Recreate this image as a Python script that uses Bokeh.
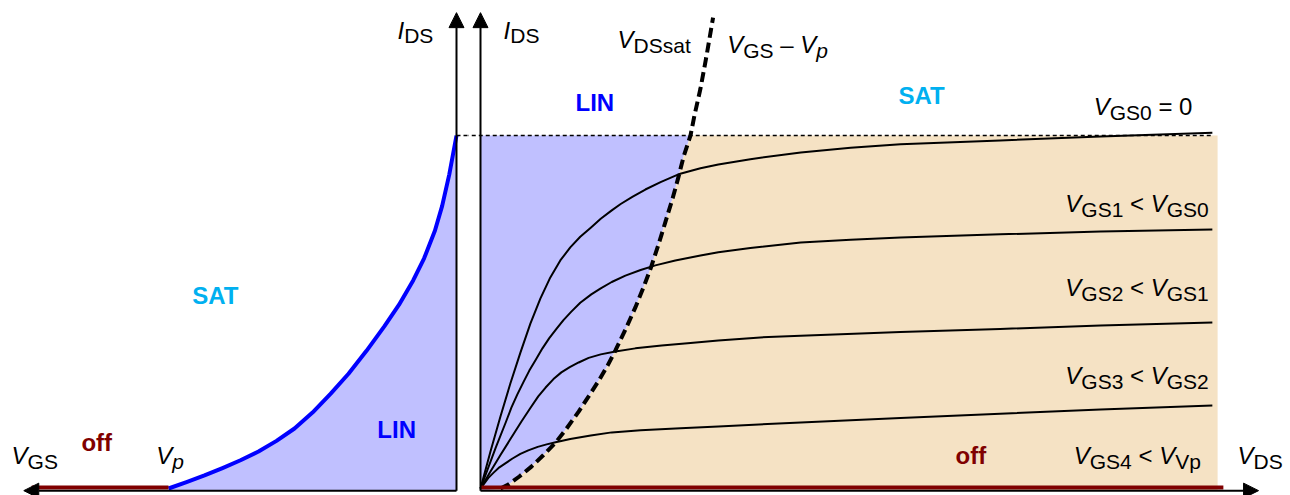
from bokeh.plotting import figure
from bokeh.layouts import row
from bokeh.models import Range1d, Arrow, NormalHead
from bokeh.core.properties import value
from bokeh.embed import file_html
from bokeh.resources import INLINE

FONT = "Liberation Sans"

# JFET parameters (mA, V)
IDSS = 10.0
VP = -4.0

# Transfer characteristic I_DS(V_GS)
vgs_transfer = [-4.0, -3.75, -3.5, -3.25, -3.0, -2.75, -2.5, -2.25, -2.0, -1.75,
                -1.5, -1.25, -1.0, -0.8, -0.6, -0.45, -0.3, -0.2, -0.1, 0.0]
ids_transfer = [0.0, 0.18, 0.37, 0.58, 0.80, 1.05, 1.35, 1.70, 2.15, 2.68,
                3.25, 3.90, 4.60, 5.20, 5.90, 6.52, 7.30, 8.00, 8.90, 10.0]

# Output characteristics I_DS(V_DS) for V_GS0 .. V_GS3
vds_c0 = [0, 0.19, 0.38, 0.57, 0.76, 0.95, 1.14, 1.33, 1.52, 1.71, 1.90, 2.10, 2.29, 2.50,
          2.67, 2.90, 3.14, 3.43, 3.77, 4.19, 4.53, 5.14, 6.10, 7.05, 8.0, 9.90, 11.81, 13.94]
ids_c0 = [0, 1.05, 2.04, 2.98, 3.85, 4.67, 5.38, 5.98, 6.46, 6.83, 7.13, 7.39, 7.64, 7.88,
          8.06, 8.27, 8.47, 8.68, 8.90, 9.07, 9.18, 9.33, 9.52, 9.65, 9.75, 9.86, 9.97, 10.08]

vds_c1 = [0, 0.29, 0.48, 0.59, 0.70, 0.82, 0.93, 1.05, 1.18, 1.31, 1.45, 1.58, 1.73, 1.90, 2.11,
          2.29, 2.50, 2.76, 3.05, 3.33, 3.71, 4.19, 4.53, 5.14, 6.10, 7.05, 8.0, 9.90, 11.81, 13.94]
ids_c1 = [0, 1.16, 1.87, 2.30, 2.66, 3.02, 3.34, 3.64, 3.97, 4.26, 4.53, 4.77, 5.01, 5.26, 5.50,
          5.67, 5.85, 6.03, 6.19, 6.32, 6.46, 6.60, 6.69, 6.81, 6.97, 7.05, 7.11, 7.20, 7.28, 7.34]

vds_c2 = [0, 0.19, 0.38, 0.57, 0.78, 0.95, 1.10, 1.24, 1.39, 1.54, 1.70, 1.87, 2.06, 2.29,
          2.57, 2.95, 3.45, 4.0, 4.53, 5.33, 6.10, 8.0, 9.90, 11.81, 13.94]
ids_c2 = [0, 0.48, 0.95, 1.40, 1.90, 2.28, 2.61, 2.86, 3.10, 3.29, 3.44, 3.57, 3.70, 3.80,
          3.88, 3.97, 4.05, 4.12, 4.19, 4.28, 4.33, 4.43, 4.52, 4.62, 4.70]

vds_c3 = [0, 0.08, 0.15, 0.25, 0.36, 0.48, 0.61, 0.76, 0.91, 1.09, 1.26, 1.43, 1.71,
          2.10, 2.50, 3.05, 3.81, 4.53, 6.10, 8.0, 9.90, 11.81, 13.94]
ids_c3 = [0, 0.16, 0.30, 0.45, 0.60, 0.72, 0.85, 0.98, 1.08, 1.18, 1.25, 1.31, 1.40,
          1.50, 1.59, 1.65, 1.71, 1.76, 1.87, 2.00, 2.12, 2.24, 2.35]

output_curves = [(vds_c0, ids_c0), (vds_c1, ids_c1), (vds_c2, ids_c2), (vds_c3, ids_c3)]

# Saturation boundary V_DSsat = V_GS - V_p
vds_sat = [0.38, 0.53, 0.74, 0.97, 1.20, 1.43, 1.64, 1.87, 2.06, 2.25, 2.42, 2.57, 2.76,
           2.95, 3.10, 3.24, 3.39, 3.52, 3.66, 3.77, 3.87, 4.0, 4.08, 4.19, 4.30, 4.43]
ids_sat = [0.0, 0.11, 0.34, 0.62, 0.95, 1.30, 1.70, 2.18, 2.61, 3.05, 3.48, 3.91, 4.50,
           5.13, 5.68, 6.23, 6.91, 7.54, 8.22, 8.82, 9.41, 10.0, 10.60, 11.33, 12.21, 13.34]

VDS_END = 14.04      # right edge of the shaded region
VDS_OFF_END = 14.15  # end of the cut-off bar
AXIS_Y = -0.06       # axis lines sit just under I_DS = 0
OFF_Y = 0.03
TEXT_DY = -8         # nudge for the alphabetic baseline of the SVG text

LAVENDER = "#c0c0ff"
TAN = "#f5e2c4"
BLUE = "#0000ff"
CYAN = "#00b0f0"
DARKRED = "#800000"

# em widths (Arial metrics) used to chain text runs
EM = {"V": 0.667, "G": 0.778, "S": 0.667, "D": 0.722, "I": 0.278, "<": 0.584, "=": 0.584,
      " ": 0.278, "s": 0.5, "a": 0.556, "t": 0.278, "p": 0.556, "\u2013": 0.556}


def run_width(text, size):
    return sum(EM.get(c, 0.556) for c in text) * size


def rich(p, x, y, runs, color="black"):
    off = 0.0
    for text, size, style, dy in runs:
        body = text.strip(" ")
        lead = run_width(" " * (len(text) - len(text.lstrip(" "))), size)
        p.text(x=[x], y=[y], text=[body], x_offset=off + lead, y_offset=dy + TEXT_DY,
               text_font=value(FONT), text_font_size=f"{size}px", text_font_style=style,
               text_align="left", text_baseline="alphabetic", text_color=color)
        off += run_width(text, size)


def word(p, x, y, text, color):
    p.text(x=[x], y=[y], text=[text], y_offset=TEXT_DY, text_font=value(FONT),
           text_font_size="24px", text_font_style="bold", text_align="left",
           text_baseline="alphabetic", text_color=color)


def sym(main, sub, italic_sub=False):
    return [(main, 24, "italic", 0), (sub, 21, "italic" if italic_sub else "normal", 6)]


def op(s):
    return [(f" {s} ", 24, "normal", 0)]


def arrow(p, x0, y0, x1, y1):
    p.add_layout(Arrow(end=NormalHead(size=15, fill_color="black", line_color="black", line_width=1),
                       x_start=x0, y_start=y0, x_end=x1, y_end=y1, line_width=2, line_color="black"))


y_range = Range1d(-0.198, 13.824)

common = dict(height=495, y_range=y_range, output_backend="svg", toolbar_location=None,
              x_axis_location=None, y_axis_location=None, min_border=0,
              outline_line_color=None, background_fill_color="white", border_fill_color="white")

# ---------- transfer characteristic ----------
left = figure(width=468, x_range=Range1d(-6.3333, 0.16667), **common)
left.grid.visible = False

left.patch(vgs_transfer + [0.0, vgs_transfer[0]], ids_transfer + [AXIS_Y, AXIS_Y],
           fill_color=LAVENDER, line_color=None)
left.line(vgs_transfer, ids_transfer, line_color=BLUE, line_width=4, line_join="round")
left.line([0.0, 0.2], [IDSS, IDSS], line_color="black", line_width=1.5, line_dash="4 3")
left.line([-5.9, VP], [OFF_Y, OFF_Y], line_color=DARKRED, line_width=4)
arrow(left, 0.0, AXIS_Y, 0.0, 13.48)
arrow(left, 0.0, AXIS_Y, -6.01, AXIS_Y)

rich(left, -0.82, 12.75, [("I", 24, "italic", 0), ("DS", 21, "normal", 5)])
rich(left, -6.18, 0.71, sym("V", "GS"))
rich(left, -4.17, 0.71, sym("V", "p", italic_sub=True))
word(left, -5.21, 1.08, "off", DARKRED)
word(left, -3.67, 5.24, "SAT", CYAN)
word(left, -1.10, 1.44, "LIN", BLUE)

# ---------- output characteristics ----------
right = figure(width=822, x_range=Range1d(-0.22857, 15.4286), **common)
right.grid.visible = False

sat_lo = [i for i, v in enumerate(ids_sat) if v <= IDSS]
xs_sat = [vds_sat[i] for i in sat_lo]
ys_sat = [ids_sat[i] for i in sat_lo]

right.patch([0.0, 0.0] + xs_sat[::-1], [AXIS_Y, IDSS] + ys_sat[::-1],
            fill_color=LAVENDER, line_color=None)
right.patch(xs_sat + [VDS_END, VDS_END], ys_sat + [IDSS, AXIS_Y],
            fill_color=TAN, line_color=None)

for vds, ids in output_curves:
    right.line(vds, ids, line_color="black", line_width=2, line_join="round")

right.line([-0.3, vds_c0[-1]], [IDSS, IDSS], line_color="black", line_width=1.5, line_dash="4 3")
right.line(vds_sat, ids_sat, line_color="black", line_width=4, line_dash="10 5")
right.line([0.0, VDS_OFF_END], [OFF_Y, OFF_Y], line_color=DARKRED, line_width=4)
arrow(right, 0.0, AXIS_Y, 0.0, 13.48)
arrow(right, 0.0, AXIS_Y, 14.82, AXIS_Y)

rich(right, 0.44, 12.75, [("I", 24, "italic", 0), ("DS", 21, "normal", 5)])
rich(right, 2.61, 12.49, sym("V", "DSsat"))
rich(right, 4.70, 12.35, sym("V", "GS") + op("\u2013") + sym("V", "p", italic_sub=True))
word(right, 1.81, 10.71, "LIN", BLUE)
word(right, 7.96, 10.91, "SAT", CYAN)
word(right, 9.05, 0.71, "off", DARKRED)
rich(right, 14.42, 0.71, sym("V", "DS"))

rich(right, 11.68, 10.59, sym("V", "GS0") + op("=") + [("0", 24, "normal", 0)])
rich(right, 11.14, 7.85, sym("V", "GS1") + op("<") + sym("V", "GS0"))
rich(right, 11.14, 5.47, sym("V", "GS2") + op("<") + sym("V", "GS1"))
rich(right, 11.14, 2.97, sym("V", "GS3") + op("<") + sym("V", "GS2"))
rich(right, 11.30, 0.71, sym("V", "GS4") + op("<") + sym("V", "Vp"))

layout = row(left, right)
open("out.html", "w").write(file_html(layout, INLINE))
